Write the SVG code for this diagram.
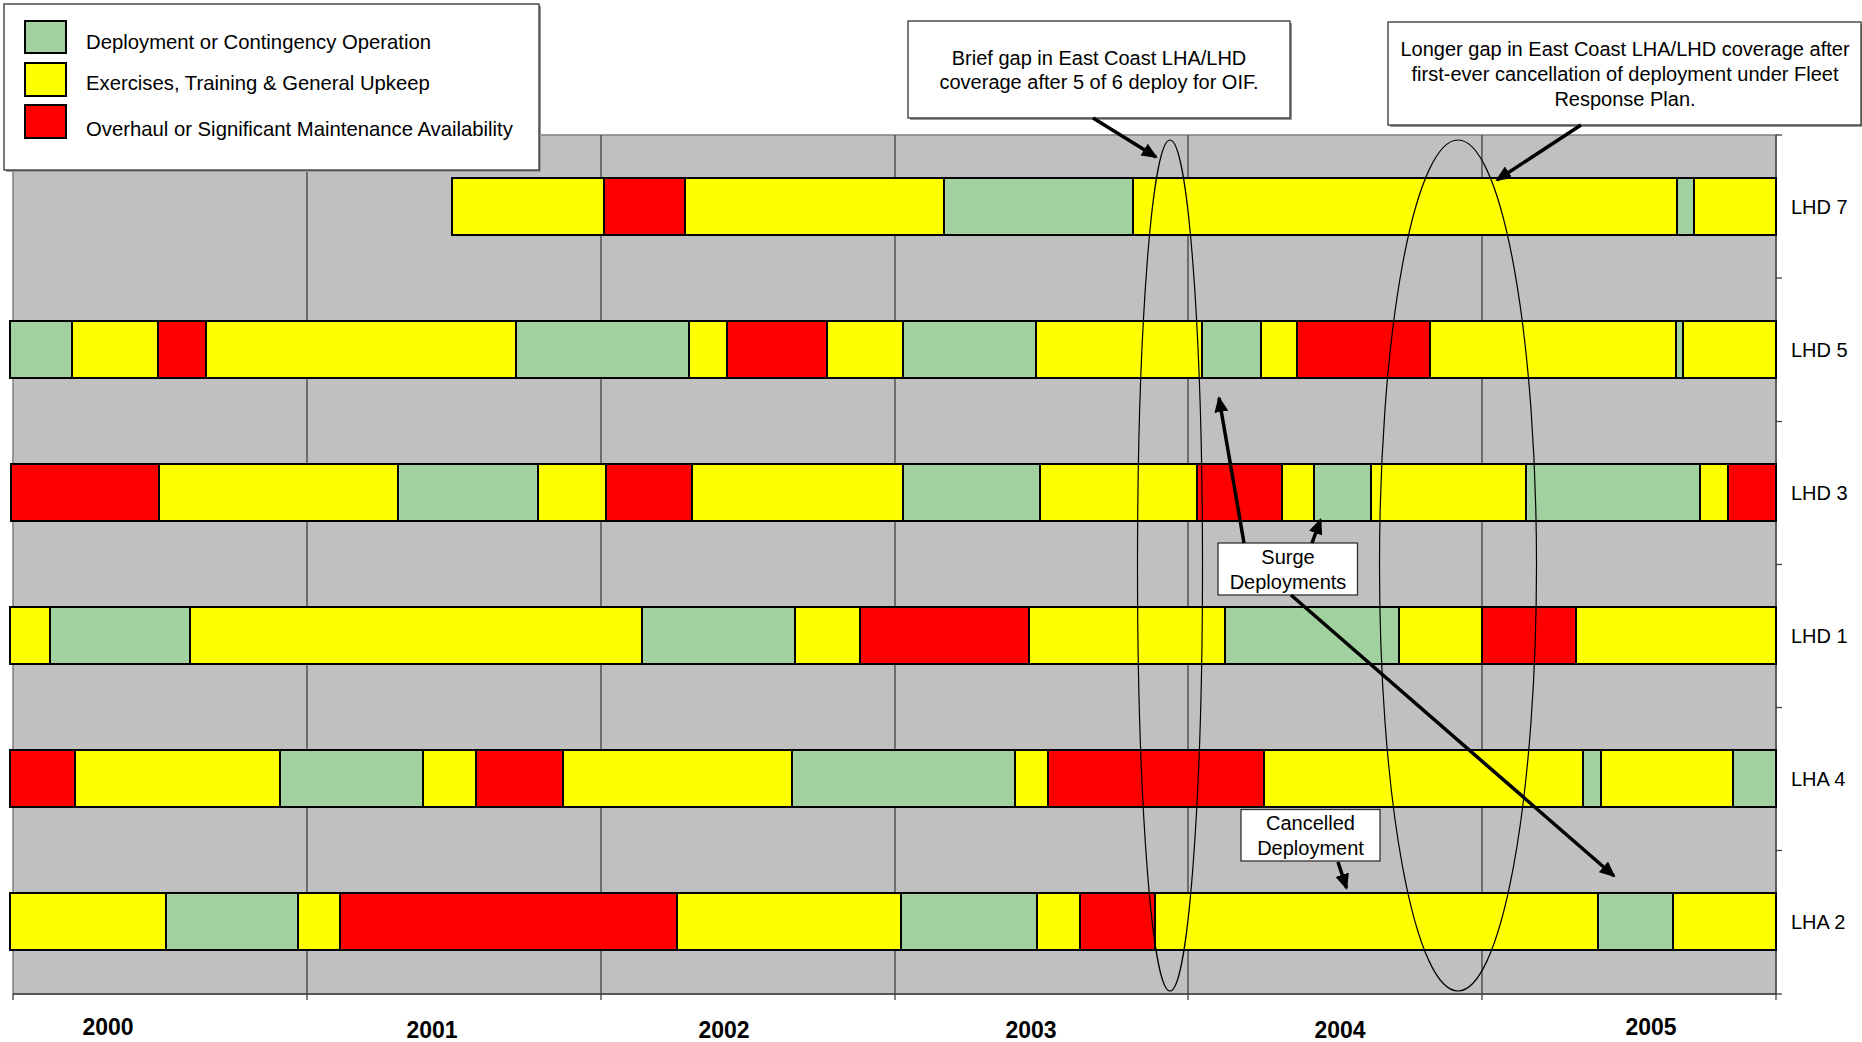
<svg xmlns="http://www.w3.org/2000/svg" width="1862" height="1042" viewBox="0 0 1862 1042">
<style>
text{font-family:"Liberation Sans",Arial,sans-serif;fill:#000}
.lbl{font-size:20px}
.leg{font-size:20.3px}
.yr{font-size:23px;font-weight:bold;text-anchor:middle}
.c{text-anchor:middle}
.G{fill:#A2D1A0;stroke:#000;stroke-width:2}
.Y{fill:#FFFF00;stroke:#000;stroke-width:2}
.R{fill:#FF0000;stroke:#000;stroke-width:2}
.grid{stroke:#404040;stroke-width:1.3}
.box{fill:#fff;stroke:#333;stroke-width:1.3}
.shadow{fill:#999}
.arr{stroke:#000;stroke-width:3.5;fill:none;marker-end:url(#ah)}
.ell{fill:none;stroke:#000;stroke-width:1.2}
</style>
<defs>
<marker id="ah" markerUnits="userSpaceOnUse" markerWidth="16" markerHeight="14" refX="14" refY="7" orient="auto">
<path d="M0,0 L16,7 L0,14 Z" fill="#000"/>
</marker>
</defs>
<rect width="1862" height="1042" fill="#fff"/>
<g id="plot">
<rect x="13" y="135" width="1763" height="859" fill="#C0C0C0" stroke="#808080" stroke-width="1.5"/>
<g class="grid">
<line x1="307" y1="135" x2="307" y2="1000"/>
<line x1="601" y1="135" x2="601" y2="1000"/>
<line x1="895" y1="135" x2="895" y2="1000"/>
<line x1="1188" y1="135" x2="1188" y2="1000"/>
<line x1="1482" y1="135" x2="1482" y2="1000"/>
<line x1="13" y1="994" x2="13" y2="1000"/>
<line x1="1776" y1="135" x2="1776" y2="1000"/>
<line x1="13" y1="994" x2="1776" y2="994"/>
<line x1="1776" y1="135" x2="1782" y2="135"/>
<line x1="1776" y1="278" x2="1782" y2="278"/>
<line x1="1776" y1="421.5" x2="1782" y2="421.5"/>
<line x1="1776" y1="564.5" x2="1782" y2="564.5"/>
<line x1="1776" y1="707.5" x2="1782" y2="707.5"/>
<line x1="1776" y1="850.5" x2="1782" y2="850.5"/>
<line x1="1776" y1="994" x2="1782" y2="994"/>
</g>
<g id="years">
<text class="yr" x="108" y="1035">2000</text>
<text class="yr" x="432" y="1038">2001</text>
<text class="yr" x="724" y="1038">2002</text>
<text class="yr" x="1031" y="1038">2003</text>
<text class="yr" x="1340" y="1038">2004</text>
<text class="yr" x="1651" y="1035">2005</text>
</g>
</g>
<g id="row-lhd7">
<rect class="Y" x="452" y="178" width="152" height="57"/>
<rect class="R" x="604" y="178" width="81" height="57"/>
<rect class="Y" x="685" y="178" width="259" height="57"/>
<rect class="G" x="944" y="178" width="189" height="57"/>
<rect class="Y" x="1133" y="178" width="544" height="57"/>
<rect class="G" x="1677" y="178" width="17" height="57"/>
<rect class="Y" x="1694" y="178" width="82" height="57"/>
<text class="lbl" x="1791" y="213.5">LHD 7</text>
</g>
<g id="row-lhd5">
<rect class="G" x="10" y="321" width="62" height="57"/>
<rect class="Y" x="72" y="321" width="86" height="57"/>
<rect class="R" x="158" y="321" width="48" height="57"/>
<rect class="Y" x="206" y="321" width="310" height="57"/>
<rect class="G" x="516" y="321" width="173" height="57"/>
<rect class="Y" x="689" y="321" width="38" height="57"/>
<rect class="R" x="727" y="321" width="100" height="57"/>
<rect class="Y" x="827" y="321" width="76" height="57"/>
<rect class="G" x="903" y="321" width="133" height="57"/>
<rect class="Y" x="1036" y="321" width="166" height="57"/>
<rect class="G" x="1202" y="321" width="59" height="57"/>
<rect class="Y" x="1261" y="321" width="36" height="57"/>
<rect class="R" x="1297" y="321" width="133" height="57"/>
<rect class="Y" x="1430" y="321" width="246" height="57"/>
<rect class="G" x="1676" y="321" width="7" height="57"/>
<rect class="Y" x="1683" y="321" width="93" height="57"/>
<text class="lbl" x="1791" y="356.5">LHD 5</text>
</g>
<g id="row-lhd3">
<rect class="R" x="11" y="464" width="148" height="57"/>
<rect class="Y" x="159" y="464" width="239" height="57"/>
<rect class="G" x="398" y="464" width="140" height="57"/>
<rect class="Y" x="538" y="464" width="68" height="57"/>
<rect class="R" x="606" y="464" width="86" height="57"/>
<rect class="Y" x="692" y="464" width="211" height="57"/>
<rect class="G" x="903" y="464" width="137" height="57"/>
<rect class="Y" x="1040" y="464" width="157" height="57"/>
<rect class="R" x="1197" y="464" width="85" height="57"/>
<rect class="Y" x="1282" y="464" width="32" height="57"/>
<rect class="G" x="1314" y="464" width="57" height="57"/>
<rect class="Y" x="1371" y="464" width="155" height="57"/>
<rect class="G" x="1526" y="464" width="174" height="57"/>
<rect class="Y" x="1700" y="464" width="28" height="57"/>
<rect class="R" x="1728" y="464" width="48" height="57"/>
<text class="lbl" x="1791" y="499.5">LHD 3</text>
</g>
<g id="row-lhd1">
<rect class="Y" x="10" y="607" width="40" height="57"/>
<rect class="G" x="50" y="607" width="140" height="57"/>
<rect class="Y" x="190" y="607" width="452" height="57"/>
<rect class="G" x="642" y="607" width="153" height="57"/>
<rect class="Y" x="795" y="607" width="65" height="57"/>
<rect class="R" x="860" y="607" width="169" height="57"/>
<rect class="Y" x="1029" y="607" width="196" height="57"/>
<rect class="G" x="1225" y="607" width="174" height="57"/>
<rect class="Y" x="1399" y="607" width="83" height="57"/>
<rect class="R" x="1482" y="607" width="94" height="57"/>
<rect class="Y" x="1576" y="607" width="200" height="57"/>
<text class="lbl" x="1791" y="642.5">LHD 1</text>
</g>
<g id="row-lha4">
<rect class="R" x="10" y="750" width="65" height="57"/>
<rect class="Y" x="75" y="750" width="205" height="57"/>
<rect class="G" x="280" y="750" width="143" height="57"/>
<rect class="Y" x="423" y="750" width="53" height="57"/>
<rect class="R" x="476" y="750" width="87" height="57"/>
<rect class="Y" x="563" y="750" width="229" height="57"/>
<rect class="G" x="792" y="750" width="223" height="57"/>
<rect class="Y" x="1015" y="750" width="33" height="57"/>
<rect class="R" x="1048" y="750" width="216" height="57"/>
<rect class="Y" x="1264" y="750" width="319" height="57"/>
<rect class="G" x="1583" y="750" width="18" height="57"/>
<rect class="Y" x="1601" y="750" width="132" height="57"/>
<rect class="G" x="1733" y="750" width="43" height="57"/>
<text class="lbl" x="1791" y="785.5">LHA 4</text>
</g>
<g id="row-lha2">
<rect class="Y" x="10" y="893" width="156" height="57"/>
<rect class="G" x="166" y="893" width="132" height="57"/>
<rect class="Y" x="298" y="893" width="42" height="57"/>
<rect class="R" x="340" y="893" width="337" height="57"/>
<rect class="Y" x="677" y="893" width="224" height="57"/>
<rect class="G" x="901" y="893" width="136" height="57"/>
<rect class="Y" x="1037" y="893" width="43" height="57"/>
<rect class="R" x="1080" y="893" width="75" height="57"/>
<rect class="Y" x="1155" y="893" width="443" height="57"/>
<rect class="G" x="1598" y="893" width="75" height="57"/>
<rect class="Y" x="1673" y="893" width="103" height="57"/>
<text class="lbl" x="1791" y="928.5">LHA 2</text>
</g>
<g id="gap-ellipses">
<ellipse class="ell" cx="1170" cy="565.5" rx="32.5" ry="425.5"/>
<ellipse class="ell" cx="1458" cy="565.5" rx="78.5" ry="425.5"/>
</g>
<g id="callout-brief-gap">
<rect class="shadow" x="910" y="23" width="382" height="97"/>
<rect class="box" x="908" y="21" width="382" height="97"/>
<text class="lbl c" x="1099" y="65">Brief gap in East Coast LHA/LHD</text>
<text class="lbl c" x="1099" y="89">coverage after 5 of 6 deploy for OIF.</text>
</g>
<g id="callout-longer-gap">
<rect class="shadow" x="1390" y="24" width="472" height="103"/>
<rect class="box" x="1388" y="22" width="473" height="103"/>
<text class="lbl c" x="1625" y="56">Longer gap in East Coast LHA/LHD coverage after</text>
<text class="lbl c" x="1625" y="81">first-ever cancellation of deployment under Fleet</text>
<text class="lbl c" x="1625" y="106">Response Plan.</text>
</g>
<g id="callout-surge">
<rect class="box" x="1218" y="543" width="139.5" height="52"/>
<text class="lbl c" x="1288" y="563.5">Surge</text>
<text class="lbl c" x="1288" y="588.5">Deployments</text>
</g>
<g id="callout-cancelled">
<rect class="box" x="1241" y="809.5" width="139" height="51.5"/>
<text class="lbl c" x="1310.5" y="830">Cancelled</text>
<text class="lbl c" x="1310.5" y="855">Deployment</text>
</g>
<g id="connectors">
<line class="arr" x1="1093" y1="118" x2="1156" y2="157"/>
<line class="arr" x1="1581" y1="125" x2="1497" y2="180"/>
<line class="arr" x1="1244" y1="543" x2="1219" y2="398"/>
<line class="arr" x1="1312" y1="543" x2="1320.5" y2="520"/>
<line class="arr" x1="1291" y1="595" x2="1614" y2="876"/>
<line class="arr" x1="1338" y1="862" x2="1346.5" y2="888"/>
</g>
<g id="legend">
<rect class="shadow" x="6" y="6" width="535" height="166"/>
<rect class="box" x="4" y="4" width="535" height="166"/>
<rect class="G" x="25" y="21" width="41" height="32" stroke-width="1.3"/>
<rect class="Y" x="25" y="63" width="41" height="33" stroke-width="1.3"/>
<rect class="R" x="25" y="105" width="41" height="33" stroke-width="1.3"/>
<text class="leg" x="86" y="48.5">Deployment or Contingency Operation</text>
<text class="leg" x="86" y="90">Exercises, Training &amp; General Upkeep</text>
<text class="leg" x="86" y="136">Overhaul or Significant Maintenance Availability</text>
</g>
</svg>
